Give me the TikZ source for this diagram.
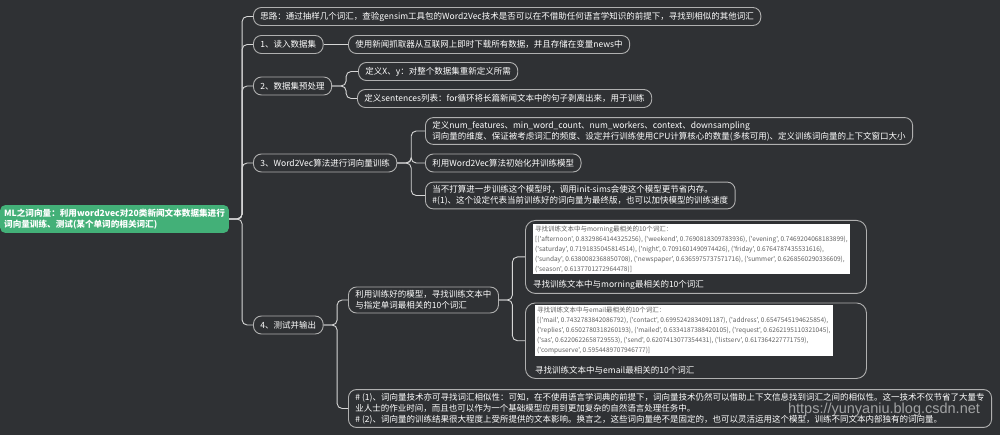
\documentclass[tikz,border=0pt]{standalone}
\usepackage{fontspec}
\newfontfamily\cjk{Noto Sans CJK SC}
\newfontfamily\wmfont{Liberation Sans}
\usepackage{tikz}
\usetikzlibrary{positioning}
\definecolor{bgdark}{HTML}{2F3134}
\definecolor{rootgreen}{HTML}{43B078}
\definecolor{boxline}{HTML}{B0B0B0}
\definecolor{linkgray}{HTML}{D6D6D6}
\definecolor{shottext}{HTML}{606060}
\tikzset{
  topic/.style   ={draw=boxline, rounded corners=8pt, line width=0.9pt, text=white, font=\cjk\fontsize{8.5}{11}\selectfont, inner xsep=7pt, inner ysep=3.5pt, minimum height=18pt, align=left, anchor=west},
  rootbox/.style ={fill=rootgreen, rounded corners=5pt, text=white, font=\cjk\bfseries\fontsize{8.6}{10.5}\selectfont, inner xsep=4pt, inner ysep=4pt, align=left, anchor=west},
  shotbox/.style ={draw=boxline, rounded corners=10pt, line width=0.9pt, minimum width=341pt, anchor=north west},
  shot/.style    ={fill=white, text=shottext, font=\cjk\fontsize{6.5}{10}\selectfont, inner xsep=2.5pt, inner ysep=2pt, align=left, anchor=north west},
  capline/.style ={text=white, font=\cjk\fontsize{8.5}{11}\selectfont, inner sep=0pt, anchor=west},
  link/.style    ={draw=linkgray, line width=0.9pt, rounded corners=5pt},      % parent -> child
  wmark/.style   ={text=white, opacity=0.55, font=\wmfont\fontsize{14.5}{14.5}\selectfont, inner sep=0pt},
}

\begin{document}
\begin{tikzpicture}[x=1pt,y=-1pt]
  \fill[bgdark] (0,0) rectangle (1000,435);
  \useasboundingbox (0,0) rectangle (1000,435);

  % ROOT
  \node[rootbox] (root) at (0,219)
    {ML之词向量：利用word2vec对20类新闻文本数据集进行\\词向量训练、测试(某个单词的相关词汇)};

  % LEVEL 1
  \node[topic] (idea) at (253,16.5) {思路：通过抽样几个词汇，查验gensim工具包的Word2Vec技术是否可以在不借助任何语言学知识的前提下，寻找到相似的其他词汇};
  \node[topic] (s1)   at (253,44.5) {1、读入数据集};
  \node[topic] (s2)   at (253,86)   {2、数据集预处理};
  \node[topic] (s3)   at (253,163)  {3、Word2Vec算法进行词向量训练};
  \node[topic] (s4)   at (253,325)  {4、测试并输出};
  \foreach \n in {idea,s1,s2,s3,s4}
    \draw[link] (root.east) -- ++(13,0) |- (\n.west);

  % 1: read
  \node[topic] (s1a) at (348,44.5) {使用新闻抓取器从互联网上即时下载所有数据，并且存储在变量news中};
  \draw[link] (s1.east) -- (s1a.west);

  % 2: preprocessing
  \node[topic] (s2a) at (358,71.5) {定义X、y：对整个数据集重新定义所需};
  \node[topic] (s2b) at (357,98.5) {定义sentences列表：for循环将长篇新闻文本中的句子剥离出来，用于训练};
  \foreach \n in {s2a,s2b}
    \draw[link] (s2.east) -- ++(14,0) |- (\n.west);

  % 3: training
  \node[topic] (s3a) at (425,131) {定义num\_features、min\_word\_count、num\_workers、context、downsampling\\词向量的维度、保证被考虑词汇的频度、设定并行训练使用CPU计算核心的数量(多核可用)、定义训练词向量的上下文窗口大小};
  \node[topic] (s3b) at (425,163) {利用Word2Vec算法初始化并训练模型};
  \node[topic] (s3c) at (425,195.5) {当不打算进一步训练这个模型时，调用init-sims会使这个模型更节省内存。\\\#(1)、这个设定代表当前训练好的词向量为最终版，也可以加快模型的训练速度};
  \foreach \n in {s3a,s3b,s3c}
    \draw[link] (s3.east) -- ++(14,0) |- (\n.west);

  % 4: test and output
  \node[topic] (s4a) at (348,300) {利用训练好的模型，寻找训练文本中\\与指定单词最相关的10个词汇};
  \node[topic] (s4b) at (348,408.5) {\# (1)、词向量技术亦可寻找词汇相似性：可知，在不使用语言学词典的前提下，词向量技术仍然可以借助上下文信息找到词汇之间的相似性。这一技术不仅节省了大量专\\业人士的作业时间，而且也可以作为一个基础模型应用到更加复杂的自然语言处理任务中。\\\# (2)、词向量的训练结果很大程度上受所提供的文本影响。换言之，这些词向量绝不是固定的，也可以灵活运用这个模型，训练不同文本内部独有的词向量。};
  \foreach \n in {s4a,s4b}
    \draw[link] (s4.east) -- ++(13.5,0) |- (\n.west);

  % morning / email results
  \node[shotbox, minimum height=73pt]   (res1) at (525,220) {};
  \node[shot] (shot1) at (532.5,223.5) {寻找训练文本中与morning最相关的10个词汇：\\
    {[}('afternoon', 0.8329864144325256), ('weekend', 0.7690818309783936), ('evening', 0.7469204068183899),\\
    ('saturday', 0.7191835045814514), ('night', 0.7091601490974426), ('friday', 0.6764787435531616),\\
    ('sunday', 0.6380082368850708), ('newspaper', 0.6365975737571716), ('summer', 0.6268560290336609),\\
    ('season', 0.6137701272964478)]};
  \node[capline] (cap1) at (533,285) {寻找训练文本中与morning最相关的10个词汇};

  \node[shotbox, minimum height=75.5pt] (res2) at (525,302.5) {};
  \node[shot] (shot2) at (534.5,305) {寻找训练文本中与email最相关的10个词汇：\\
    {[}('mail', 0.7432783842086792), ('contact', 0.6995242834091187), ('address', 0.6547545194625854),\\
    ('replies', 0.6502780318260193), ('mailed', 0.6334187388420105), ('request', 0.6262195110321045),\\
    ('sas', 0.6220622658729553), ('send', 0.6207413077354431), ('listserv', 0.617364227771759),\\
    ('compuserve', 0.5954489707946777)]};
  \node[capline] (cap2) at (535,370.5) {寻找训练文本中与email最相关的10个词汇};
  \foreach \n in {res1,res2}
    \draw[link] (s4a.east) -- ++(13.5,0) |- (\n.west);

  \node[wmark] (wm) at (884,410) {https://yunyaniu.blog.csdn.net};
\end{tikzpicture}
\end{document}
